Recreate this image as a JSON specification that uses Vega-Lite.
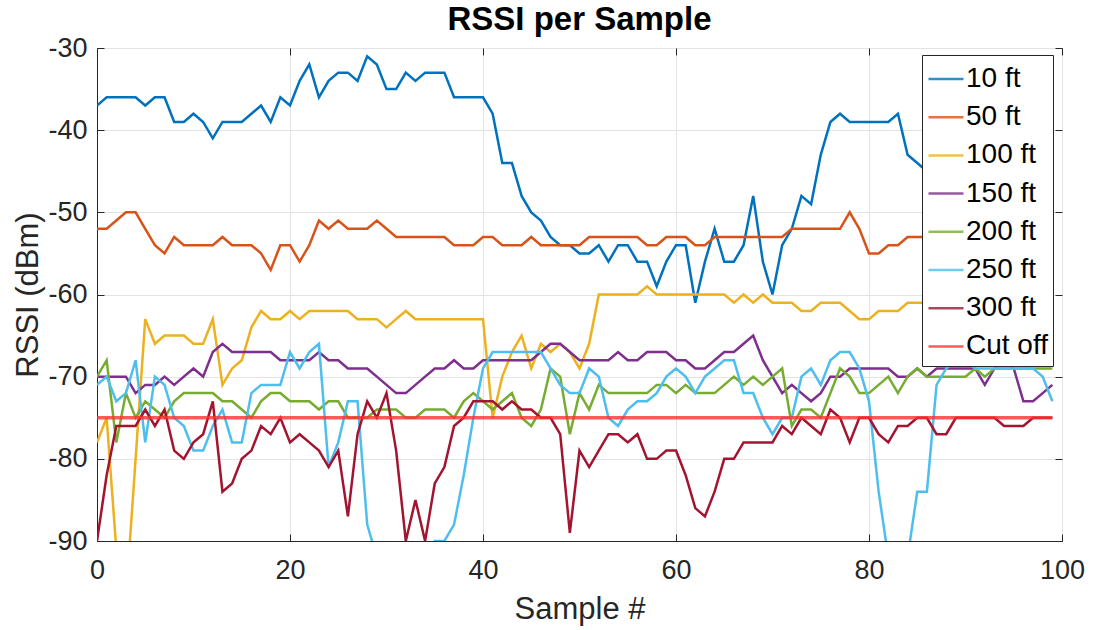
{
  "$schema": "https://vega.github.io/schema/vega-lite/v6.json",
  "autosize": {"type": "none"},
  "width": 965,
  "height": 493,
  "padding": {"left": 97, "top": 48, "right": 31, "bottom": 89},
  "background": "white",
  "title": {
    "text": "RSSI per Sample",
    "fontSize": 33,
    "fontWeight": "bold",
    "font": "Liberation Sans",
    "color": "#000000",
    "anchor": "middle",
    "offset": -3
  },
  "config": {
    "view": {"stroke": "#262626", "strokeWidth": 1},
    "axis": {
      "labelFont": "Liberation Sans",
      "titleFont": "Liberation Sans",
      "labelFontSize": 27,
      "titleFontSize": 31,
      "titleFontWeight": "normal",
      "labelColor": "#262626",
      "titleColor": "#262626",
      "domainColor": "#262626",
      "tickColor": "#262626",
      "gridColor": "#E3E3E3",
      "gridWidth": 1,
      "labelFlush": false
    },
    "legend": {
      "orient": "none",
      "legendX": 825,
      "legendY": 7,
      "fillColor": "white",
      "strokeColor": "#262626",
      "padding": 5,
      "labelFont": "Liberation Sans",
      "labelFontSize": 28,
      "labelColor": "#000000",
      "labelOffset": 1,
      "symbolType": "stroke",
      "symbolSize": 1225,
      "symbolStrokeWidth": 2.5,
      "rowPadding": 5.2,
      "title": null
    }
  },
  "resolve": {"axis": {"x": "independent", "y": "independent"}},
  "layer": [
    {
      "data": {
        "values": [
          {"x":0,"10 ft":-37,"50 ft":-52,"100 ft":-78,"150 ft":-70,"200 ft":-70,"250 ft":-71,"300 ft":-90},
          {"x":1,"10 ft":-36,"50 ft":-52,"100 ft":-75,"150 ft":-70,"200 ft":-68,"250 ft":-70,"300 ft":-82},
          {"x":2,"10 ft":-36,"50 ft":-51,"100 ft":-91,"150 ft":-70,"200 ft":-78,"250 ft":-73,"300 ft":-76},
          {"x":3,"10 ft":-36,"50 ft":-50,"100 ft":-97,"150 ft":-70,"200 ft":-72,"250 ft":-72,"300 ft":-76},
          {"x":4,"10 ft":-36,"50 ft":-50,"100 ft":-80,"150 ft":-72,"200 ft":-75,"250 ft":-68,"300 ft":-76},
          {"x":5,"10 ft":-37,"50 ft":-52,"100 ft":-63,"150 ft":-71,"200 ft":-73,"250 ft":-78,"300 ft":-74},
          {"x":6,"10 ft":-36,"50 ft":-54,"100 ft":-66,"150 ft":-71,"200 ft":-74,"250 ft":-70,"300 ft":-76},
          {"x":7,"10 ft":-36,"50 ft":-55,"100 ft":-65,"150 ft":-70,"200 ft":-75,"250 ft":-71,"300 ft":-74},
          {"x":8,"10 ft":-39,"50 ft":-53,"100 ft":-65,"150 ft":-71,"200 ft":-73,"250 ft":-75,"300 ft":-79},
          {"x":9,"10 ft":-39,"50 ft":-54,"100 ft":-65,"150 ft":-70,"200 ft":-72,"250 ft":-76,"300 ft":-80},
          {"x":10,"10 ft":-38,"50 ft":-54,"100 ft":-66,"150 ft":-69,"200 ft":-72,"250 ft":-79,"300 ft":-78},
          {"x":11,"10 ft":-39,"50 ft":-54,"100 ft":-66,"150 ft":-70,"200 ft":-72,"250 ft":-79,"300 ft":-77},
          {"x":12,"10 ft":-41,"50 ft":-54,"100 ft":-63,"150 ft":-67,"200 ft":-72,"250 ft":-76,"300 ft":-73},
          {"x":13,"10 ft":-39,"50 ft":-53,"100 ft":-71,"150 ft":-66,"200 ft":-73,"250 ft":-74,"300 ft":-84},
          {"x":14,"10 ft":-39,"50 ft":-54,"100 ft":-69,"150 ft":-67,"200 ft":-73,"250 ft":-78,"300 ft":-83},
          {"x":15,"10 ft":-39,"50 ft":-54,"100 ft":-68,"150 ft":-67,"200 ft":-74,"250 ft":-78,"300 ft":-80},
          {"x":16,"10 ft":-38,"50 ft":-54,"100 ft":-64,"150 ft":-67,"200 ft":-75,"250 ft":-72,"300 ft":-79},
          {"x":17,"10 ft":-37,"50 ft":-55,"100 ft":-62,"150 ft":-67,"200 ft":-73,"250 ft":-71,"300 ft":-76},
          {"x":18,"10 ft":-39,"50 ft":-57,"100 ft":-63,"150 ft":-67,"200 ft":-72,"250 ft":-71,"300 ft":-77},
          {"x":19,"10 ft":-36,"50 ft":-54,"100 ft":-63,"150 ft":-68,"200 ft":-72,"250 ft":-71,"300 ft":-75},
          {"x":20,"10 ft":-37,"50 ft":-54,"100 ft":-62,"150 ft":-68,"200 ft":-73,"250 ft":-67,"300 ft":-78},
          {"x":21,"10 ft":-34,"50 ft":-56,"100 ft":-63,"150 ft":-68,"200 ft":-73,"250 ft":-69,"300 ft":-77},
          {"x":22,"10 ft":-32,"50 ft":-54,"100 ft":-62,"150 ft":-68,"200 ft":-73,"250 ft":-67,"300 ft":-78},
          {"x":23,"10 ft":-36,"50 ft":-51,"100 ft":-62,"150 ft":-67,"200 ft":-74,"250 ft":-66,"300 ft":-79},
          {"x":24,"10 ft":-34,"50 ft":-52,"100 ft":-62,"150 ft":-68,"200 ft":-73,"250 ft":-81,"300 ft":-81},
          {"x":25,"10 ft":-33,"50 ft":-51,"100 ft":-62,"150 ft":-68,"200 ft":-73,"250 ft":-78,"300 ft":-79},
          {"x":26,"10 ft":-33,"50 ft":-52,"100 ft":-62,"150 ft":-69,"200 ft":-75,"250 ft":-73,"300 ft":-87},
          {"x":27,"10 ft":-34,"50 ft":-52,"100 ft":-63,"150 ft":-69,"200 ft":-75,"250 ft":-73,"300 ft":-77},
          {"x":28,"10 ft":-31,"50 ft":-52,"100 ft":-63,"150 ft":-69,"200 ft":-75,"250 ft":-88,"300 ft":-73},
          {"x":29,"10 ft":-32,"50 ft":-51,"100 ft":-63,"150 ft":-70,"200 ft":-74,"250 ft":-92,"300 ft":-75},
          {"x":30,"10 ft":-35,"50 ft":-52,"100 ft":-64,"150 ft":-71,"200 ft":-74,"250 ft":-95,"300 ft":-72},
          {"x":31,"10 ft":-35,"50 ft":-53,"100 ft":-63,"150 ft":-72,"200 ft":-74,"250 ft":-95,"300 ft":-79},
          {"x":32,"10 ft":-33,"50 ft":-53,"100 ft":-62,"150 ft":-72,"200 ft":-75,"250 ft":-95,"300 ft":-90},
          {"x":33,"10 ft":-34,"50 ft":-53,"100 ft":-63,"150 ft":-71,"200 ft":-75,"250 ft":-95,"300 ft":-85},
          {"x":34,"10 ft":-33,"50 ft":-53,"100 ft":-63,"150 ft":-70,"200 ft":-74,"250 ft":-92,"300 ft":-90},
          {"x":35,"10 ft":-33,"50 ft":-53,"100 ft":-63,"150 ft":-69,"200 ft":-74,"250 ft":-90,"300 ft":-83},
          {"x":36,"10 ft":-33,"50 ft":-53,"100 ft":-63,"150 ft":-69,"200 ft":-74,"250 ft":-90,"300 ft":-81},
          {"x":37,"10 ft":-36,"50 ft":-54,"100 ft":-63,"150 ft":-68,"200 ft":-75,"250 ft":-88,"300 ft":-76},
          {"x":38,"10 ft":-36,"50 ft":-54,"100 ft":-63,"150 ft":-69,"200 ft":-73,"250 ft":-82,"300 ft":-75},
          {"x":39,"10 ft":-36,"50 ft":-54,"100 ft":-63,"150 ft":-69,"200 ft":-72,"250 ft":-75,"300 ft":-73},
          {"x":40,"10 ft":-36,"50 ft":-53,"100 ft":-63,"150 ft":-68,"200 ft":-73,"250 ft":-69,"300 ft":-73},
          {"x":41,"10 ft":-38,"50 ft":-53,"100 ft":-75,"150 ft":-68,"200 ft":-74,"250 ft":-67,"300 ft":-73},
          {"x":42,"10 ft":-44,"50 ft":-54,"100 ft":-70,"150 ft":-68,"200 ft":-73,"250 ft":-67,"300 ft":-74},
          {"x":43,"10 ft":-44,"50 ft":-54,"100 ft":-67,"150 ft":-68,"200 ft":-72,"250 ft":-67,"300 ft":-73},
          {"x":44,"10 ft":-48,"50 ft":-54,"100 ft":-65,"150 ft":-68,"200 ft":-75,"250 ft":-67,"300 ft":-74},
          {"x":45,"10 ft":-50,"50 ft":-53,"100 ft":-69,"150 ft":-68,"200 ft":-76,"250 ft":-67,"300 ft":-74},
          {"x":46,"10 ft":-51,"50 ft":-54,"100 ft":-66,"150 ft":-67,"200 ft":-74,"250 ft":-67,"300 ft":-75},
          {"x":47,"10 ft":-53,"50 ft":-54,"100 ft":-67,"150 ft":-66,"200 ft":-69,"250 ft":-69,"300 ft":-75},
          {"x":48,"10 ft":-54,"50 ft":-54,"100 ft":-66,"150 ft":-66,"200 ft":-70,"250 ft":-71,"300 ft":-77},
          {"x":49,"10 ft":-54,"50 ft":-54,"100 ft":-67,"150 ft":-67,"200 ft":-77,"250 ft":-72,"300 ft":-89},
          {"x":50,"10 ft":-55,"50 ft":-54,"100 ft":-69,"150 ft":-68,"200 ft":-72,"250 ft":-72,"300 ft":-79},
          {"x":51,"10 ft":-55,"50 ft":-53,"100 ft":-66,"150 ft":-68,"200 ft":-74,"250 ft":-69,"300 ft":-81},
          {"x":52,"10 ft":-54,"50 ft":-53,"100 ft":-60,"150 ft":-68,"200 ft":-71,"250 ft":-70,"300 ft":-79},
          {"x":53,"10 ft":-56,"50 ft":-53,"100 ft":-60,"150 ft":-68,"200 ft":-72,"250 ft":-75,"300 ft":-77},
          {"x":54,"10 ft":-54,"50 ft":-53,"100 ft":-60,"150 ft":-67,"200 ft":-72,"250 ft":-76,"300 ft":-77},
          {"x":55,"10 ft":-54,"50 ft":-53,"100 ft":-60,"150 ft":-68,"200 ft":-72,"250 ft":-74,"300 ft":-78},
          {"x":56,"10 ft":-56,"50 ft":-53,"100 ft":-60,"150 ft":-68,"200 ft":-72,"250 ft":-73,"300 ft":-77},
          {"x":57,"10 ft":-56,"50 ft":-54,"100 ft":-59,"150 ft":-67,"200 ft":-72,"250 ft":-73,"300 ft":-80},
          {"x":58,"10 ft":-59,"50 ft":-54,"100 ft":-60,"150 ft":-67,"200 ft":-71,"250 ft":-72,"300 ft":-80},
          {"x":59,"10 ft":-56,"50 ft":-53,"100 ft":-60,"150 ft":-67,"200 ft":-71,"250 ft":-70,"300 ft":-79},
          {"x":60,"10 ft":-54,"50 ft":-53,"100 ft":-60,"150 ft":-68,"200 ft":-72,"250 ft":-69,"300 ft":-79},
          {"x":61,"10 ft":-54,"50 ft":-53,"100 ft":-60,"150 ft":-68,"200 ft":-71,"250 ft":-70,"300 ft":-82},
          {"x":62,"10 ft":-61,"50 ft":-54,"100 ft":-60,"150 ft":-69,"200 ft":-72,"250 ft":-72,"300 ft":-86},
          {"x":63,"10 ft":-56,"50 ft":-54,"100 ft":-60,"150 ft":-69,"200 ft":-72,"250 ft":-70,"300 ft":-87},
          {"x":64,"10 ft":-52,"50 ft":-53,"100 ft":-60,"150 ft":-68,"200 ft":-72,"250 ft":-69,"300 ft":-84},
          {"x":65,"10 ft":-56,"50 ft":-53,"100 ft":-60,"150 ft":-67,"200 ft":-71,"250 ft":-68,"300 ft":-80},
          {"x":66,"10 ft":-56,"50 ft":-53,"100 ft":-61,"150 ft":-67,"200 ft":-70,"250 ft":-68,"300 ft":-80},
          {"x":67,"10 ft":-54,"50 ft":-53,"100 ft":-60,"150 ft":-66,"200 ft":-71,"250 ft":-72,"300 ft":-78},
          {"x":68,"10 ft":-48,"50 ft":-53,"100 ft":-61,"150 ft":-65,"200 ft":-70,"250 ft":-72,"300 ft":-78},
          {"x":69,"10 ft":-56,"50 ft":-53,"100 ft":-60,"150 ft":-68,"200 ft":-71,"250 ft":-75,"300 ft":-78},
          {"x":70,"10 ft":-60,"50 ft":-53,"100 ft":-61,"150 ft":-70,"200 ft":-70,"250 ft":-77,"300 ft":-78},
          {"x":71,"10 ft":-54,"50 ft":-53,"100 ft":-61,"150 ft":-72,"200 ft":-69,"250 ft":-75,"300 ft":-76},
          {"x":72,"10 ft":-52,"50 ft":-52,"100 ft":-61,"150 ft":-71,"200 ft":-76,"250 ft":-75,"300 ft":-77},
          {"x":73,"10 ft":-48,"50 ft":-52,"100 ft":-62,"150 ft":-72,"200 ft":-74,"250 ft":-70,"300 ft":-75},
          {"x":74,"10 ft":-49,"50 ft":-52,"100 ft":-62,"150 ft":-73,"200 ft":-74,"250 ft":-69,"300 ft":-76},
          {"x":75,"10 ft":-43,"50 ft":-52,"100 ft":-61,"150 ft":-72,"200 ft":-75,"250 ft":-71,"300 ft":-77},
          {"x":76,"10 ft":-39,"50 ft":-52,"100 ft":-61,"150 ft":-70,"200 ft":-72,"250 ft":-68,"300 ft":-74},
          {"x":77,"10 ft":-38,"50 ft":-52,"100 ft":-61,"150 ft":-70,"200 ft":-69,"250 ft":-67,"300 ft":-75},
          {"x":78,"10 ft":-39,"50 ft":-50,"100 ft":-62,"150 ft":-69,"200 ft":-70,"250 ft":-67,"300 ft":-78},
          {"x":79,"10 ft":-39,"50 ft":-52,"100 ft":-63,"150 ft":-69,"200 ft":-72,"250 ft":-69,"300 ft":-75},
          {"x":80,"10 ft":-39,"50 ft":-55,"100 ft":-63,"150 ft":-69,"200 ft":-72,"250 ft":-73,"300 ft":-75},
          {"x":81,"10 ft":-39,"50 ft":-55,"100 ft":-62,"150 ft":-69,"200 ft":-71,"250 ft":-84,"300 ft":-77},
          {"x":82,"10 ft":-39,"50 ft":-54,"100 ft":-62,"150 ft":-69,"200 ft":-70,"250 ft":-92,"300 ft":-78},
          {"x":83,"10 ft":-38,"50 ft":-54,"100 ft":-62,"150 ft":-70,"200 ft":-72,"250 ft":-95,"300 ft":-76},
          {"x":84,"10 ft":-43,"50 ft":-53,"100 ft":-61,"150 ft":-70,"200 ft":-70,"250 ft":-92,"300 ft":-76},
          {"x":85,"10 ft":-44,"50 ft":-53,"100 ft":-61,"150 ft":-69,"200 ft":-69,"250 ft":-84,"300 ft":-75},
          {"x":86,"10 ft":-45,"50 ft":-53,"100 ft":-61,"150 ft":-70,"200 ft":-70,"250 ft":-84,"300 ft":-75},
          {"x":87,"10 ft":-44,"50 ft":-53,"100 ft":-61,"150 ft":-69,"200 ft":-70,"250 ft":-71,"300 ft":-77},
          {"x":88,"10 ft":-44,"50 ft":-53,"100 ft":-61,"150 ft":-69,"200 ft":-70,"250 ft":-69,"300 ft":-77},
          {"x":89,"10 ft":-43,"50 ft":-53,"100 ft":-61,"150 ft":-69,"200 ft":-70,"250 ft":-68,"300 ft":-75},
          {"x":90,"10 ft":-43,"50 ft":-53,"100 ft":-61,"150 ft":-69,"200 ft":-70,"250 ft":-68,"300 ft":-75},
          {"x":91,"10 ft":-42,"50 ft":-53,"100 ft":-61,"150 ft":-69,"200 ft":-69,"250 ft":-69,"300 ft":-75},
          {"x":92,"10 ft":-42,"50 ft":-53,"100 ft":-61,"150 ft":-71,"200 ft":-70,"250 ft":-69,"300 ft":-75},
          {"x":93,"10 ft":-43,"50 ft":-53,"100 ft":-61,"150 ft":-69,"200 ft":-69,"250 ft":-69,"300 ft":-75},
          {"x":94,"10 ft":-42,"50 ft":-53,"100 ft":-61,"150 ft":-68,"200 ft":-69,"250 ft":-69,"300 ft":-76},
          {"x":95,"10 ft":-41,"50 ft":-53,"100 ft":-61,"150 ft":-69,"200 ft":-69,"250 ft":-69,"300 ft":-76},
          {"x":96,"10 ft":-41,"50 ft":-53,"100 ft":-61,"150 ft":-73,"200 ft":-69,"250 ft":-69,"300 ft":-76},
          {"x":97,"10 ft":-42,"50 ft":-53,"100 ft":-61,"150 ft":-73,"200 ft":-69,"250 ft":-69,"300 ft":-75},
          {"x":98,"10 ft":-41,"50 ft":-53,"100 ft":-61,"150 ft":-72,"200 ft":-69,"250 ft":-70,"300 ft":-75},
          {"x":99,"10 ft":-41,"50 ft":-53,"100 ft":-61,"150 ft":-71,"200 ft":-69,"250 ft":-73,"300 ft":-75}
        ]
      },
      "transform": [
        {"fold": ["10 ft", "50 ft", "100 ft", "150 ft", "200 ft", "250 ft", "300 ft"], "as": ["series", "rssi"]}
      ],
      "mark": {"type": "line", "strokeWidth": 2.5, "clip": true, "interpolate": "linear"},
      "encoding": {
        "x": {
          "field": "x", "type": "quantitative",
          "scale": {"domain": [0, 100], "nice": false, "zero": false},
          "axis": {"orient": "bottom", "title": "Sample #", "values": [0, 20, 40, 60, 80, 100], "grid": true, "tickSize": -7, "labelPadding": 23, "titlePadding": 11}
        },
        "y": {
          "field": "rssi", "type": "quantitative",
          "scale": {"domain": [-90, -30], "nice": false, "zero": false},
          "axis": {"orient": "left", "title": "RSSI (dBm)", "values": [-90, -80, -70, -60, -50, -40, -30], "labelExpr": "'' + datum.value", "grid": true, "tickSize": -7, "labelPadding": 17, "titlePadding": 3}
        },
        "color": {
          "field": "series", "type": "nominal",
          "scale": {
            "domain": ["10 ft", "50 ft", "100 ft", "150 ft", "200 ft", "250 ft", "300 ft", "Cut off"],
            "range": ["#0072BD", "#D95319", "#EDB120", "#7E2F8E", "#77AC30", "#4DBEEE", "#A2142F", "#FF3030"]
          }
        },
        "order": {"field": "x", "type": "quantitative"}
      }
    },
    {
      "data": {
        "values": [
          {"series": "Cut off", "x": 0, "rssi": -75},
          {"series": "Cut off", "x": 99, "rssi": -75}
        ]
      },
      "mark": {"type": "line", "strokeWidth": 3.5, "opacity": 0.8, "clip": true},
      "encoding": {
        "x": {
          "field": "x", "type": "quantitative",
          "scale": {"domain": [0, 100], "nice": false, "zero": false},
          "axis": {"orient": "top", "title": null, "labels": false, "domain": false, "grid": false, "values": [0, 20, 40, 60, 80, 100], "tickSize": -7}
        },
        "y": {
          "field": "rssi", "type": "quantitative",
          "scale": {"domain": [-90, -30], "nice": false, "zero": false},
          "axis": {"orient": "right", "title": null, "labels": false, "domain": false, "grid": false, "values": [-90, -80, -70, -60, -50, -40, -30], "tickSize": -7}
        },
        "color": {"field": "series", "type": "nominal"}
      }
    }
  ]
}
